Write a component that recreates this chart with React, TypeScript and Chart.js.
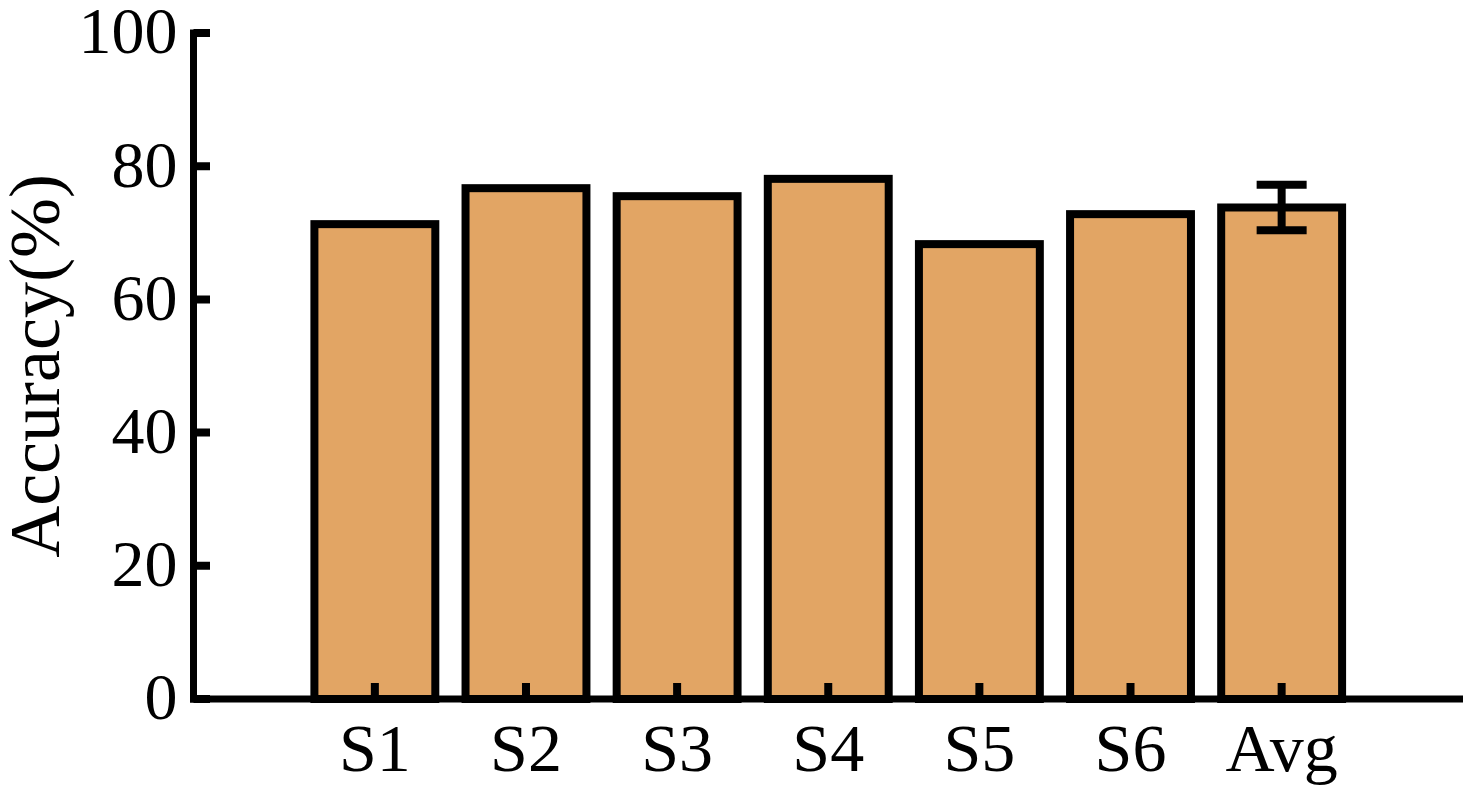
import React, { useEffect, useRef } from 'react';
import { Chart, registerables } from 'chart.js';

Chart.register(...registerables);

const categories = ['S1', 'S2', 'S3', 'S4', 'S5', 'S6', 'Avg'];
const accuracy = [71.3, 76.7, 75.5, 78.1, 68.3, 72.8, 73.8];
const accuracyError = [0, 0, 0, 0, 0, 0, 3.4];
const yTickValues = [0, 20, 40, 60, 80, 100];

const FONT = '"Liberation Serif", "Times New Roman", Times, serif';
const BAR_COLOR = '#E2A564';

const decorPlugin = {
  id: 'decor',
  afterDatasetsDraw(chart: any) {
    const ctx = chart.ctx;
    const { left, right, top, bottom } = chart.chartArea;
    const xs = chart.scales.x;
    const ys = chart.scales.y;
    ctx.save();
    ctx.strokeStyle = '#000';
    ctx.lineJoin = 'miter';
    const meta = chart.getDatasetMeta(0);
    ctx.lineWidth = 8;
    meta.data.forEach((bar: any) => {
      const p = bar.getProps(['x', 'y', 'width', 'base'], true);
      ctx.strokeRect(p.x - p.width / 2, p.y, p.width, p.base - p.y);
    });
    accuracyError.forEach((err, i) => {
      if (!err) return;
      const x = xs.getPixelForValue(i);
      const yT = ys.getPixelForValue(accuracy[i] + err);
      const yB = ys.getPixelForValue(accuracy[i] - err);
      ctx.lineCap = 'butt';
      ctx.beginPath();
      ctx.moveTo(x, yT);
      ctx.lineTo(x, yB);
      ctx.moveTo(x - 25, yT);
      ctx.lineTo(x + 25, yT);
      ctx.moveTo(x - 25, yB);
      ctx.lineTo(x + 25, yB);
      ctx.stroke();
    });
    ctx.lineCap = 'square';
    ctx.lineWidth = 7;
    ctx.beginPath();
    ctx.moveTo(left, bottom);
    ctx.lineTo(left, top);
    ctx.stroke();
    ctx.beginPath();
    ctx.moveTo(left, bottom);
    ctx.lineTo(right - 3.5, bottom);
    ctx.stroke();
    ctx.lineCap = 'butt';
    ctx.lineWidth = 8;
    ctx.beginPath();
    ys.ticks.forEach((t: any) => {
      const y = ys.getPixelForValue(t.value);
      ctx.moveTo(left, y);
      ctx.lineTo(left + 16.5, y);
    });
    xs.ticks.forEach((t: any) => {
      const x = xs.getPixelForValue(t.value);
      ctx.moveTo(x, bottom);
      ctx.lineTo(x, bottom - 16);
    });
    ctx.stroke();
    ctx.restore();
  },
};

export default function App() {
  const ref = useRef<HTMLCanvasElement | null>(null);
  useEffect(() => {
    let chart: any = null;
    let cancelled = false;
    const build = () => {
      if (cancelled || !ref.current) return;
      chart = new Chart(ref.current, {
        type: 'bar',
        data: {
          datasets: [
            {
              label: 'Accuracy',
              data: categories.map((_, i) => ({ x: i, y: accuracy[i] })),
              backgroundColor: BAR_COLOR,
              borderWidth: 0,
              barPercentage: 0.8,
              categoryPercentage: 1,
            },
          ],
        },
        options: {
          animation: false,
          responsive: false,
          maintainAspectRatio: false,
          layout: { padding: { top: 33, right: 16, left: 0, bottom: 0 } },
          plugins: { legend: { display: false }, tooltip: { enabled: false } },
          scales: {
            x: {
              type: 'linear',
              offset: false,
              min: -1.2,
              max: 7.2,
              afterBuildTicks: (s: any) => {
                s.ticks = categories.map((_, i) => ({ value: i }));
              },
              afterFit: (s: any) => {
                s.height = 106;
                s.paddingLeft = 0;
                s.paddingRight = 0;
              },
              ticks: {
                callback: (v: any) => categories[v] ?? '',
                font: { family: FONT, size: 68 },
                color: '#000',
                padding: 13,
                maxRotation: 0,
                autoSkip: false,
              },
              grid: { display: false, drawTicks: false },
              border: { display: false },
            },
            y: {
              min: 0,
              max: 100,
              afterBuildTicks: (s: any) => {
                s.ticks = yTickValues.map((v) => ({ value: v }));
              },
              afterFit: (s: any) => {
                s.width = 193.5;
                s.paddingTop = 0;
                s.paddingBottom = 0;
              },
              ticks: {
                font: { family: FONT, size: 66 },
                color: '#000',
                padding: 16,
                labelOffset: 3,
              },
              grid: { display: false, drawTicks: false },
              border: { display: false },
              title: {
                display: true,
                text: 'Accuracy(%)',
                color: '#000',
                font: { family: FONT, size: 72, lineHeight: 1 },
                padding: { top: 4, bottom: 0 },
              },
            },
          },
        },
        plugins: [decorPlugin],
      } as any);
    };
    const fonts: any = (document as any).fonts;
    if (fonts && fonts.load) {
      Promise.all([
        fonts.load('68px "Liberation Serif"'),
        fonts.load('72px "Liberation Serif"'),
      ])
        .catch(() => null)
        .then(build);
    } else {
      build();
    }
    return () => {
      cancelled = true;
      if (chart) chart.destroy();
    };
  }, []);
  return (
    <div style={{ position: 'fixed', left: 0, top: 0, width: 1479, height: 805, background: '#fff' }}>
      <canvas ref={ref} width={1479} height={805} style={{ display: 'block' }} />
    </div>
  );
}
